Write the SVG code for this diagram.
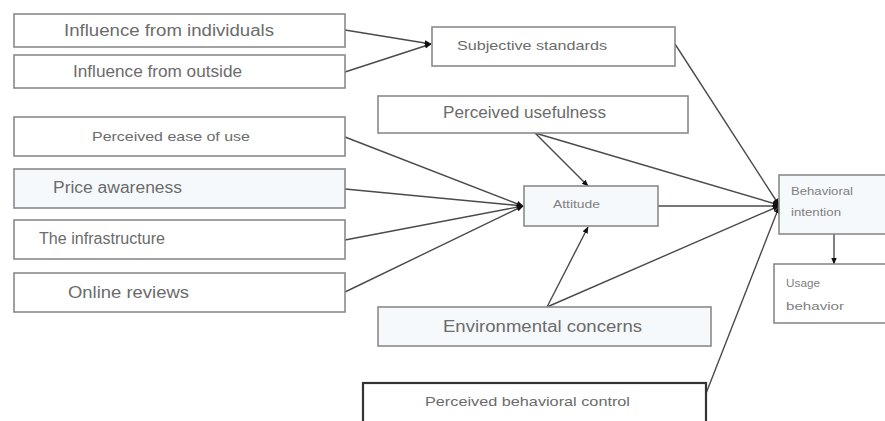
<svg xmlns="http://www.w3.org/2000/svg" width="885" height="421" viewBox="0 0 885 421">
<defs>
<marker id="ah" viewBox="0 0 10 10" refX="9" refY="5" markerWidth="7" markerHeight="7" markerUnits="userSpaceOnUse" orient="auto">
<path d="M0,1 L10,5 L0,9 z" fill="#111"/>
</marker>
</defs>
<style>
.box{fill:#fff;stroke:#8a8a8a;stroke-width:1.6}
.blue{fill:#f6f9fc}
.dark{stroke:#333;stroke-width:2.2}
text{font-family:"Liberation Sans",Arial,sans-serif;fill:#6b6b6b}
.lg{font-size:16px}
.md{font-size:13.5px}
.sm{font-size:11px;fill:#808080}
.c{fill:none;stroke:#4a4a4a;stroke-width:1.4}
</style>
<rect width="885" height="421" fill="#fff"/>
<g id="connectors">
<line class="c" x1="345" y1="30" x2="431" y2="44" marker-end="url(#ah)"/>
<line class="c" x1="345" y1="72" x2="431" y2="44" marker-end="url(#ah)"/>
<line class="c" x1="675" y1="44" x2="779" y2="205" marker-end="url(#ah)"/>
<line class="c" x1="535" y1="133" x2="588" y2="186" marker-end="url(#ah)"/>
<line class="c" x1="535" y1="133" x2="779" y2="205" marker-end="url(#ah)"/>
<line class="c" x1="345" y1="137" x2="523" y2="206" marker-end="url(#ah)"/>
<line class="c" x1="345" y1="189" x2="523" y2="206" marker-end="url(#ah)"/>
<line class="c" x1="345" y1="240" x2="523" y2="206" marker-end="url(#ah)"/>
<line class="c" x1="345" y1="292" x2="523" y2="206" marker-end="url(#ah)"/>
<line class="c" x1="658" y1="206" x2="779" y2="206" marker-end="url(#ah)"/>
<line class="c" x1="547" y1="307" x2="588" y2="227" marker-end="url(#ah)"/>
<line class="c" x1="547" y1="307" x2="779" y2="206" marker-end="url(#ah)"/>
<line class="c" x1="705" y1="396" x2="779" y2="207" marker-end="url(#ah)"/>
<line class="c" x1="834" y1="234" x2="834" y2="264" marker-end="url(#ah)"/>
</g>
<g id="n-infl-ind">
<rect class="box" x="14" y="14" width="331" height="33"/>
<text class="lg" x="64" y="36" textLength="210" lengthAdjust="spacingAndGlyphs">Influence from individuals</text>
</g>
<g id="n-infl-out">
<rect class="box" x="14" y="55" width="331" height="33"/>
<text class="lg" x="73" y="77" textLength="169" lengthAdjust="spacingAndGlyphs">Influence from outside</text>
</g>
<g id="n-subj">
<rect class="box" x="432" y="27" width="243" height="39"/>
<text class="md" x="457" y="50" textLength="150" lengthAdjust="spacingAndGlyphs">Subjective standards</text>
</g>
<g id="n-pu">
<rect class="box" x="378" y="96" width="310" height="37"/>
<text class="lg" x="443" y="118" textLength="163" lengthAdjust="spacingAndGlyphs">Perceived usefulness</text>
</g>
<g id="n-peou">
<rect class="box" x="14" y="117" width="331" height="39"/>
<text class="md" x="92" y="141" textLength="158" lengthAdjust="spacingAndGlyphs">Perceived ease of use</text>
</g>
<g id="n-price">
<rect class="box blue" x="14" y="169" width="331" height="39"/>
<text class="lg" x="53" y="193" textLength="129" lengthAdjust="spacingAndGlyphs">Price awareness</text>
</g>
<g id="n-infra">
<rect class="box" x="14" y="220" width="331" height="39"/>
<text class="lg" x="39" y="244" textLength="126" lengthAdjust="spacingAndGlyphs">The infrastructure</text>
</g>
<g id="n-online">
<rect class="box" x="14" y="273" width="331" height="39"/>
<text class="lg" x="68" y="298" textLength="121" lengthAdjust="spacingAndGlyphs">Online reviews</text>
</g>
<g id="n-attitude">
<rect class="box blue" x="524" y="186" width="134" height="40"/>
<text class="sm" x="553" y="208" textLength="47" lengthAdjust="spacingAndGlyphs">Attitude</text>
</g>
<g id="n-bi">
<rect class="box blue" x="779" y="175" width="110" height="59"/>
<text class="sm" x="791" y="195" textLength="62" lengthAdjust="spacingAndGlyphs">Behavioral</text>
<text class="sm" x="791" y="216" textLength="50" lengthAdjust="spacingAndGlyphs">intention</text>
</g>
<g id="n-usage">
<rect class="box" x="774" y="264" width="115" height="59"/>
<text class="sm" x="786" y="287" textLength="34" lengthAdjust="spacingAndGlyphs">Usage</text>
<text class="sm" x="786" y="310" textLength="58" lengthAdjust="spacingAndGlyphs">behavior</text>
</g>
<g id="n-env">
<rect class="box blue" x="378" y="307" width="333" height="39"/>
<text class="lg" x="443" y="332" textLength="199" lengthAdjust="spacingAndGlyphs">Environmental concerns</text>
</g>
<g id="n-pbc">
<rect class="box dark" x="363" y="383" width="343" height="44"/>
<text class="md" x="425" y="406" textLength="205" lengthAdjust="spacingAndGlyphs">Perceived behavioral control</text>
</g>
</svg>
